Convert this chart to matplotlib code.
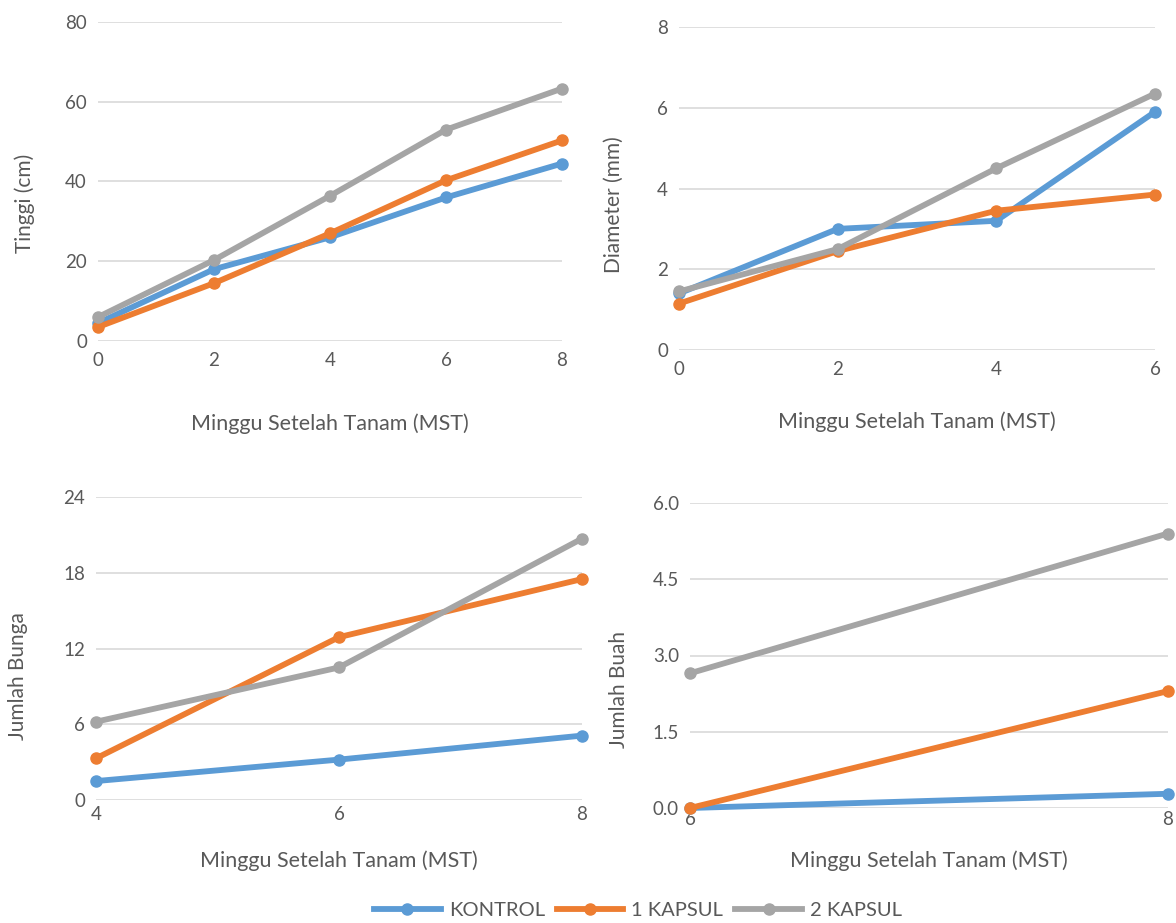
import matplotlib.pyplot as plt

W, H = 1176, 923

series = ["KONTROL", "1 KAPSUL", "2 KAPSUL"]
colors = ["#5B9BD5", "#ED7D31", "#A5A5A5"]

# Tinggi (cm)
tinggi_x = [0, 2, 4, 6, 8]
tinggi_kontrol = [4.5, 18.0, 26.0, 36.0, 44.5]
tinggi_1kapsul = [3.5, 14.5, 27.0, 40.3, 50.3]
tinggi_2kapsul = [6.0, 20.3, 36.4, 53.0, 63.3]

# Diameter (mm)
diam_x = [0, 2, 4, 6]
diam_kontrol = [1.4, 3.0, 3.2, 5.9]
diam_1kapsul = [1.15, 2.45, 3.45, 3.85]
diam_2kapsul = [1.45, 2.5, 4.5, 6.35]

# Jumlah Bunga
bunga_x = [4, 6, 8]
bunga_kontrol = [1.5, 3.2, 5.1]
bunga_1kapsul = [3.3, 12.9, 17.5]
bunga_2kapsul = [6.2, 10.5, 20.7]

# Jumlah Buah
buah_x = [6, 8]
buah_kontrol = [0.0, 0.28]
buah_1kapsul = [0.0, 2.3]
buah_2kapsul = [2.65, 5.4]

plt.rcParams["font.family"] = ["Lato", "DejaVu Sans"]
text_color = "#595959"

fig = plt.figure(figsize=(W / 100, H / 100), dpi=100)


def add_panel(left, right, top, bottom):
    return fig.add_axes([left / W, (H - bottom) / H, (right - left) / W, (bottom - top) / H])


def style(ax, xs, ys_list, ylim, yticks, ylabels, ylabel, xpad, ypad, ylab_y):
    for ys, c, name in zip(ys_list, colors, series):
        ax.plot(xs, ys, color=c, lw=4.2, marker="o", ms=8, label=name,
                clip_on=False, zorder=3)
    ax.set_xlim(xs[0], xs[-1])
    ax.set_ylim(*ylim)
    ax.set_xticks(xs)
    ax.set_yticks(yticks)
    ax.set_yticklabels(ylabels)
    ax.grid(axis="y", color="#D9D9D9", lw=1.2)
    ax.set_axisbelow(True)
    for s in ax.spines.values():
        s.set_visible(False)
    ax.tick_params(length=0, labelsize=13.5, colors=text_color, pad=8)
    ax.set_ylabel(ylabel, fontsize=15, color=text_color, labelpad=ypad)
    ax.yaxis.label.set_y(ylab_y)
    ax.set_xlabel("Minggu Setelah Tanam (MST)", fontsize=15.5, color=text_color,
                  labelpad=xpad)


ax1 = add_panel(98, 562, 22, 341)
style(ax1, tinggi_x, [tinggi_kontrol, tinggi_1kapsul, tinggi_2kapsul],
      (0, 80), [0, 20, 40, 60, 80], ["0", "20", "40", "60", "80"], "Tinggi (cm)",
      32, 22, 0.43)

ax2 = add_panel(679, 1155, 27, 350)
style(ax2, diam_x, [diam_kontrol, diam_1kapsul, diam_2kapsul],
      (0, 8), [0, 2, 4, 6, 8], ["0", "2", "4", "6", "8"], "Diameter (mm)",
      24, 24, 0.45)

ax3 = add_panel(96, 582, 497, 800)
style(ax3, bunga_x, [bunga_kontrol, bunga_1kapsul, bunga_2kapsul],
      (0, 24), [0, 6, 12, 18, 24], ["0", "6", "12", "18", "24"], "Jumlah Bunga",
      20, 25, 0.41)
ax3.tick_params(axis="x", pad=4)

ax4 = add_panel(690, 1168, 503, 808)
style(ax4, buah_x, [buah_kontrol, buah_1kapsul, buah_2kapsul],
      (0, 6), [0, 1.5, 3, 4.5, 6], ["0.0", "1.5", "3.0", "4.5", "6.0"], "Jumlah Buah",
      16, 17, 0.39)
ax4.tick_params(axis="x", pad=2)

handles, labels = ax1.get_legend_handles_labels()
leg = fig.legend(handles, labels, loc="center", bbox_to_anchor=(638 / W, (H - 910) / H),
                 ncol=3, frameon=False, fontsize=14.5, handlelength=3.3,
                 columnspacing=0.6, handletextpad=0.4)
for t in leg.get_texts():
    t.set_color(text_color)

fig.savefig("out.png", dpi=100, facecolor="white")
